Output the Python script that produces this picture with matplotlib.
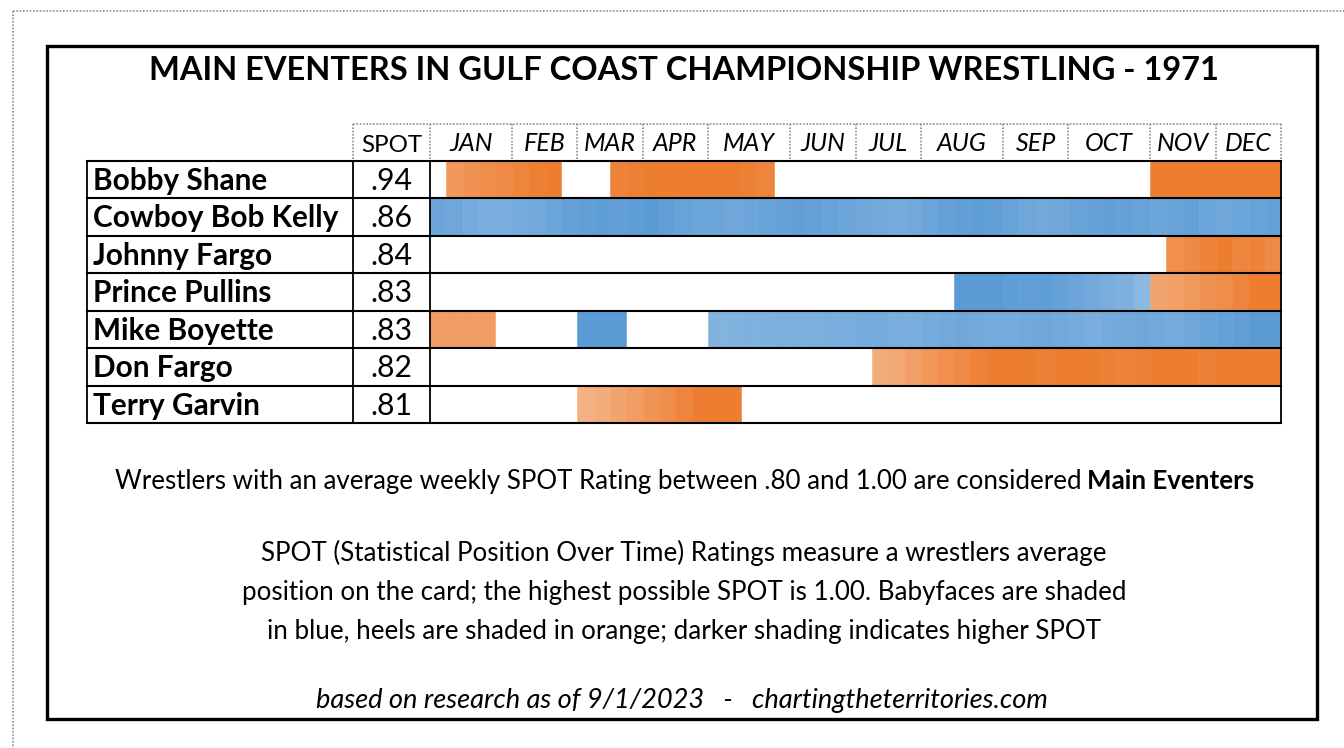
import numpy as np
import matplotlib.pyplot as plt

plt.rcParams['font.family'] = ['Lato', 'DejaVu Sans']

# ---------- Data ----------
title = "MAIN EVENTERS IN GULF COAST CHAMPIONSHIP WRESTLING - 1971"
months = ["JAN", "FEB", "MAR", "APR", "MAY", "JUN", "JUL", "AUG", "SEP", "OCT", "NOV", "DEC"]
month_weeks = [5, 4, 4, 4, 5, 4, 4, 5, 4, 5, 4, 4]

wrestlers = ["Bobby Shane", "Cowboy Bob Kelly", "Johnny Fargo", "Prince Pullins",
             "Mike Boyette", "Don Fargo", "Terry Garvin"]
spot = [".94", ".86", ".84", ".83", ".83", ".82", ".81"]

# weekly SPOT runs: (first week, side, weekly values)
bobby_shane = [
    (1, "heel", [0.85, 0.87, 0.89, 0.90, 0.92, 0.94, 0.96]),
    (11, "heel", [0.93, 0.94, 0.95, 0.96, 0.98, 0.98, 0.97, 0.95, 0.94, 0.92]),
    (44, "heel", [0.97, 0.98, 0.98, 0.99, 0.99, 1.00, 1.00, 1.00]),
]
cowboy_bob_kelly = [
    (0, "face", [0.90, 0.89, 0.87, 0.86, 0.86,
                 0.87, 0.88, 0.90, 0.92,
                 0.93, 0.94, 0.93, 0.94,
                 0.95, 0.93, 0.91, 0.90,
                 0.90, 0.89, 0.90, 0.91, 0.92,
                 0.93, 0.92, 0.91, 0.90,
                 0.89, 0.88, 0.87, 0.88,
                 0.90, 0.92, 0.93, 0.94, 0.93,
                 0.91, 0.89, 0.88, 0.89,
                 0.91, 0.92, 0.93, 0.92, 0.91,
                 0.90, 0.91, 0.92, 0.90,
                 0.89, 0.90, 0.91, 0.92]),
]
johnny_fargo = [
    (45, "heel", [0.88, 0.90, 0.93, 0.95, 0.92, 0.93, 0.90]),
]
prince_pullins = [
    (32, "face", [0.96, 0.96, 0.95, 0.94, 0.93, 0.94, 0.92, 0.90, 0.88, 0.86, 0.84, 0.80]),
    (44, "heel", [0.80, 0.82, 0.84, 0.87, 0.89, 0.92, 0.95, 0.97]),
]
mike_boyette = [
    (0, "heel", [0.83, 0.83, 0.83, 0.83]),
    (9, "face", [0.97, 0.97, 0.96]),
    (17, "face", [0.83, 0.83, 0.84, 0.84, 0.85,
                  0.85, 0.85, 0.86, 0.86,
                  0.87, 0.87, 0.86, 0.86,
                  0.87, 0.88, 0.89, 0.88, 0.87,
                  0.87, 0.88, 0.89, 0.88,
                  0.87, 0.86, 0.87, 0.88, 0.89,
                  0.88, 0.87, 0.89, 0.91,
                  0.92, 0.93, 0.95, 0.96]),
]
don_fargo = [
    (27, "heel", [0.77, 0.79, 0.82, 0.85, 0.88, 0.90, 0.93, 0.95, 0.96, 0.95,
                  0.94, 0.95, 0.96, 0.95, 0.94, 0.93, 0.94, 0.95, 0.96, 0.95,
                  0.94, 0.95, 0.96, 0.97, 0.97]),
]
terry_garvin = [
    (9, "heel", [0.75, 0.77, 0.80, 0.83, 0.86, 0.89, 0.92, 0.95, 0.97, 0.96]),
]
runs = [bobby_shane, cowboy_bob_kelly, johnny_fargo, prince_pullins,
        mike_boyette, don_fargo, terry_garvin]

line1 = "Wrestlers with an average weekly SPOT Rating between .80 and 1.00 are considered"
line1_bold = "Main Eventers"
para = ["SPOT (Statistical Position Over Time) Ratings measure a wrestlers average",
        "position on the card; the highest possible SPOT is 1.00. Babyfaces are shaded",
        "in blue, heels are shaded in orange; darker shading indicates higher SPOT"]
source = "based on research as of 9/1/2023   -   chartingtheterritories.com"

base_colors = {"heel": np.array([237, 125, 49]) / 255, "face": np.array([91, 155, 213]) / 255}


def shade(side, v):
    t = np.clip((v - 0.45) / 0.5, 0, 1)
    return tuple(1 - t * (1 - base_colors[side]))


# ---------- Figure ----------
W, H = 1344, 748
fig = plt.figure(figsize=(W / 100, H / 100), dpi=100)
ax = fig.add_axes([0, 0, 1, 1])
ax.set_xlim(0, W)
ax.set_ylim(H, 0)
ax.axis('off')
ax.set_zorder(2)
renderer = fig.canvas.get_renderer()


def width_of(t):
    return t.get_window_extent(renderer).width


def fit(t, w):
    t.set_fontsize(t.get_fontsize() * w / width_of(t))
    return t.get_fontsize()


# table geometry (pixels)
NX0, SX0, GX0, GX1 = 87, 353, 430, 1281
HY0, GY0, GY1 = 124, 161, 423
nweeks = sum(month_weeks)

gx = fig.add_axes([GX0 / W, 1 - GY1 / H, (GX1 - GX0) / W, (GY1 - GY0) / H])
gx.set_xlim(0, nweeks)
gx.set_ylim(len(wrestlers), 0)
gx.axis('off')
gx.set_zorder(1)

for i, segs in enumerate(runs):
    for start, side, vals in segs:
        weeks = np.arange(start, start + len(vals))
        cols = [shade(side, v) for v in vals]
        gx.barh(i + 0.5, 1, left=weeks, height=1, color=cols, edgecolor=cols,
                linewidth=0.4, align='center')

# outer dotted page border and frame
dot = dict(color='#8f8f8f', lw=1.2, linestyle=(0, (1, 1)))
ax.plot([13, W], [11, 11], **dot)
ax.plot([13, 13], [11, H], **dot)
ax.add_patch(plt.Rectangle((47, 46), 1270, 673, fill=False, lw=2.4, ec='black'))

# header dotted cells
bounds = GX0 + np.concatenate([[0], np.cumsum(month_weeks)]) * (GX1 - GX0) / nweeks
ax.plot([SX0, GX1], [HY0, HY0], **dot)
for x in [SX0] + list(bounds):
    ax.plot([x, x], [HY0, GY0], **dot)

# table lines
row_y = np.linspace(GY0, GY1, len(wrestlers) + 1)
for y in row_y:
    ax.plot([NX0, GX1], [y, y], color='black', lw=1.5, solid_capstyle='projecting')
for x in [NX0, SX0, GX0, GX1]:
    ax.plot([x, x], [GY0, GY1], color='black', lw=1.3)

# title
t = ax.text(684, 80, title, ha='center', va='baseline', fontsize=26, fontweight='bold')
fit(t, 1070)

# header labels
t = ax.text((SX0 + GX0) / 2, 152, "SPOT", ha='center', va='baseline', fontsize=18)
fit(t, 61)
probe = ax.text(0, 0, "MAY", fontsize=18, style='italic')
msize = fit(probe, 52)
probe.remove()
for m, a, b in zip(months, bounds[:-1], bounds[1:]):
    ax.text((a + b) / 2, 151, m, ha='center', va='baseline', fontsize=msize, style='italic')

# names and spot values
probe = ax.text(0, 0, "Cowboy Bob Kelly", fontsize=20, fontweight='bold')
nsize = fit(probe, 245)
probe.remove()
probe = ax.text(0, 0, ".86", fontsize=20)
ssize = fit(probe, 42)
probe.remove()
for i, (name, s) in enumerate(zip(wrestlers, spot)):
    yb = row_y[i] + 29
    ax.text(93, yb, name, ha='left', va='baseline', fontsize=nsize, fontweight='bold')
    ax.text((SX0 + GX0) / 2, yb, s, ha='center', va='baseline', fontsize=ssize)

# footnotes
a = ax.text(115, 489, line1, ha='left', va='baseline', fontsize=18)
b = ax.text(1254, 489, line1_bold, ha='right', va='baseline', fontsize=18, fontweight='bold')
scale = (1139 - 7) / (width_of(a) + width_of(b))
a.set_fontsize(18 * scale)
b.set_fontsize(18 * scale)

probe = ax.text(0, 0, para[1], fontsize=18)
psize = fit(probe, 883)
probe.remove()
for s, yb in zip(para, [561, 600, 639]):
    ax.text(684, yb, s, ha='center', va='baseline', fontsize=psize)

t = ax.text(682, 708, source, ha='center', va='baseline', fontsize=18, style='italic')
fit(t, 735)

fig.savefig("out.png", dpi=100)
